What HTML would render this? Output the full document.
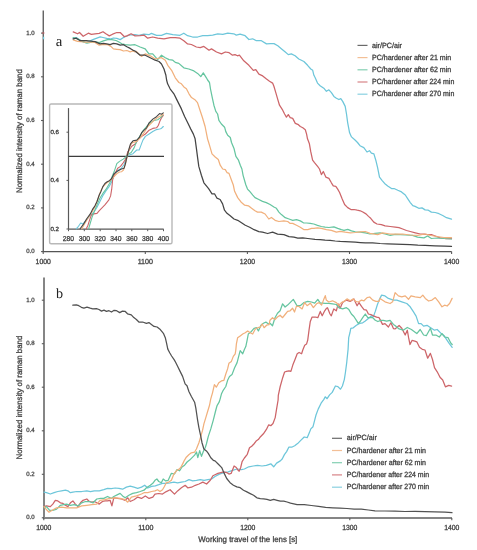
<!DOCTYPE html>
<html><head><meta charset="utf-8"><style>
html,body{margin:0;padding:0;background:#fff;}
svg{display:block;will-change:transform;text-rendering:geometricPrecision;filter:blur(0.3px);}
</style></head><body>
<svg width="477" height="550" viewBox="0 0 477 550">
<rect width="477" height="550" fill="#fff"/>
<line x1="43.25" y1="10.6" x2="43.25" y2="251.6" stroke="#555" stroke-width="1.3"/>
<line x1="42.6" y1="251.6" x2="451.6" y2="251.6" stroke="#555" stroke-width="1.3"/>
<line x1="41.05" y1="251.6" x2="43.25" y2="251.6" stroke="#5a5a5a" stroke-width="1.1"/>
<text x="34.6" y="253.1" text-anchor="end" font-size="6.2" fill="#404040" stroke="#404040" stroke-width="0.25" font-family="Liberation Sans, sans-serif" textLength="8.4" lengthAdjust="spacingAndGlyphs">0.0</text>
<line x1="41.05" y1="207.9" x2="43.25" y2="207.9" stroke="#5a5a5a" stroke-width="1.1"/>
<text x="34.6" y="209.4" text-anchor="end" font-size="6.2" fill="#404040" stroke="#404040" stroke-width="0.25" font-family="Liberation Sans, sans-serif" textLength="8.4" lengthAdjust="spacingAndGlyphs">0.2</text>
<line x1="41.05" y1="164.2" x2="43.25" y2="164.2" stroke="#5a5a5a" stroke-width="1.1"/>
<text x="34.6" y="165.7" text-anchor="end" font-size="6.2" fill="#404040" stroke="#404040" stroke-width="0.25" font-family="Liberation Sans, sans-serif" textLength="8.4" lengthAdjust="spacingAndGlyphs">0.4</text>
<line x1="41.05" y1="120.5" x2="43.25" y2="120.5" stroke="#5a5a5a" stroke-width="1.1"/>
<text x="34.6" y="122.0" text-anchor="end" font-size="6.2" fill="#404040" stroke="#404040" stroke-width="0.25" font-family="Liberation Sans, sans-serif" textLength="8.4" lengthAdjust="spacingAndGlyphs">0.6</text>
<line x1="41.05" y1="76.8" x2="43.25" y2="76.8" stroke="#5a5a5a" stroke-width="1.1"/>
<text x="34.6" y="78.3" text-anchor="end" font-size="6.2" fill="#404040" stroke="#404040" stroke-width="0.25" font-family="Liberation Sans, sans-serif" textLength="8.4" lengthAdjust="spacingAndGlyphs">0.8</text>
<line x1="41.05" y1="33.1" x2="43.25" y2="33.1" stroke="#5a5a5a" stroke-width="1.1"/>
<text x="34.6" y="34.6" text-anchor="end" font-size="6.2" fill="#404040" stroke="#404040" stroke-width="0.25" font-family="Liberation Sans, sans-serif" textLength="8.4" lengthAdjust="spacingAndGlyphs">1.0</text>
<line x1="43.2" y1="251.6" x2="43.2" y2="254.0" stroke="#5a5a5a" stroke-width="1.1"/>
<text x="43.2" y="264.0" text-anchor="middle" font-size="7.4" fill="#404040" stroke="#404040" stroke-width="0.3" font-family="Liberation Sans, sans-serif" textLength="15.2" lengthAdjust="spacingAndGlyphs">1000</text>
<line x1="145.3" y1="251.6" x2="145.3" y2="254.0" stroke="#5a5a5a" stroke-width="1.1"/>
<text x="145.3" y="264.0" text-anchor="middle" font-size="7.4" fill="#404040" stroke="#404040" stroke-width="0.3" font-family="Liberation Sans, sans-serif" textLength="15.2" lengthAdjust="spacingAndGlyphs">1100</text>
<line x1="247.4" y1="251.6" x2="247.4" y2="254.0" stroke="#5a5a5a" stroke-width="1.1"/>
<text x="247.4" y="264.0" text-anchor="middle" font-size="7.4" fill="#404040" stroke="#404040" stroke-width="0.3" font-family="Liberation Sans, sans-serif" textLength="15.2" lengthAdjust="spacingAndGlyphs">1200</text>
<line x1="349.5" y1="251.6" x2="349.5" y2="254.0" stroke="#5a5a5a" stroke-width="1.1"/>
<text x="349.5" y="264.0" text-anchor="middle" font-size="7.4" fill="#404040" stroke="#404040" stroke-width="0.3" font-family="Liberation Sans, sans-serif" textLength="15.2" lengthAdjust="spacingAndGlyphs">1300</text>
<line x1="451.6" y1="251.6" x2="451.6" y2="254.0" stroke="#5a5a5a" stroke-width="1.1"/>
<text x="451.6" y="264.0" text-anchor="middle" font-size="7.4" fill="#404040" stroke="#404040" stroke-width="0.3" font-family="Liberation Sans, sans-serif" textLength="15.2" lengthAdjust="spacingAndGlyphs">1400</text>
<text transform="translate(22.1,131.1) rotate(-90)" text-anchor="middle" font-size="8.1" fill="#404040" stroke="#404040" stroke-width="0.3" font-family="Liberation Sans, sans-serif" textLength="123.8" lengthAdjust="spacingAndGlyphs">Normalized intensity of raman band</text>
<text x="55.8" y="45.9" font-size="14.8" fill="#222" font-family="Liberation Serif, serif">a</text>
<line x1="357.5" y1="45.4" x2="367.5" y2="45.4" stroke="#454545" stroke-width="1.2" opacity="0.8"/>
<text x="372" y="47.5" font-size="7.5" fill="#404040" stroke="#404040" stroke-width="0.3" font-family="Liberation Sans, sans-serif" textLength="30" lengthAdjust="spacingAndGlyphs">air/PC/air</text>
<line x1="357.5" y1="57.6" x2="367.5" y2="57.6" stroke="#f1b07c" stroke-width="1.2" opacity="0.8"/>
<text x="372" y="59.7" font-size="7.5" fill="#404040" stroke="#404040" stroke-width="0.3" font-family="Liberation Sans, sans-serif" textLength="79.2" lengthAdjust="spacingAndGlyphs">PC/hardener after 21 min</text>
<line x1="357.5" y1="69.8" x2="367.5" y2="69.8" stroke="#66c5a0" stroke-width="1.2" opacity="0.8"/>
<text x="372" y="71.89999999999999" font-size="7.5" fill="#404040" stroke="#404040" stroke-width="0.3" font-family="Liberation Sans, sans-serif" textLength="79.2" lengthAdjust="spacingAndGlyphs">PC/hardener after 62 min</text>
<line x1="357.5" y1="82.0" x2="367.5" y2="82.0" stroke="#cd6569" stroke-width="1.2" opacity="0.8"/>
<text x="372" y="84.1" font-size="7.5" fill="#404040" stroke="#404040" stroke-width="0.3" font-family="Liberation Sans, sans-serif" textLength="82.3" lengthAdjust="spacingAndGlyphs">PC/hardener after 224 min</text>
<line x1="357.5" y1="94.2" x2="367.5" y2="94.2" stroke="#6dc6da" stroke-width="1.2" opacity="0.8"/>
<text x="372" y="96.3" font-size="7.5" fill="#404040" stroke="#404040" stroke-width="0.3" font-family="Liberation Sans, sans-serif" textLength="82.3" lengthAdjust="spacingAndGlyphs">PC/hardener after 270 min</text>
<rect x="49.6" y="104.0" width="122.4" height="139.7" rx="1.5" fill="#fff" stroke="#b8b8b8" stroke-width="1.4"/>
<line x1="68.5" y1="108.1" x2="68.5" y2="229.2" stroke="#595959" stroke-width="1.2"/>
<line x1="68.5" y1="229.2" x2="163.7" y2="229.2" stroke="#595959" stroke-width="1.2"/>
<line x1="68.5" y1="156.3" x2="164" y2="156.3" stroke="#3d3d3d" stroke-width="1.3"/>
<line x1="66.5" y1="132.2" x2="68.5" y2="132.2" stroke="#595959" stroke-width="1"/>
<text x="58.9" y="134.1" text-anchor="end" font-size="6.0" fill="#404040" stroke="#404040" stroke-width="0.3" font-family="Liberation Sans, sans-serif" textLength="8.5" lengthAdjust="spacingAndGlyphs">0.6</text>
<line x1="66.5" y1="180.4" x2="68.5" y2="180.4" stroke="#595959" stroke-width="1"/>
<text x="58.9" y="182.3" text-anchor="end" font-size="6.0" fill="#404040" stroke="#404040" stroke-width="0.3" font-family="Liberation Sans, sans-serif" textLength="8.5" lengthAdjust="spacingAndGlyphs">0.4</text>
<line x1="66.5" y1="229.0" x2="68.5" y2="229.0" stroke="#595959" stroke-width="1"/>
<text x="58.9" y="230.9" text-anchor="end" font-size="6.0" fill="#404040" stroke="#404040" stroke-width="0.3" font-family="Liberation Sans, sans-serif" textLength="8.5" lengthAdjust="spacingAndGlyphs">0.2</text>
<line x1="68.5" y1="229.2" x2="68.5" y2="231.2" stroke="#595959" stroke-width="1"/>
<text x="68.5" y="241.4" text-anchor="middle" font-size="7.1" fill="#404040" stroke="#404040" stroke-width="0.3" font-family="Liberation Sans, sans-serif" textLength="11.3" lengthAdjust="spacingAndGlyphs">280</text>
<line x1="84.3" y1="229.2" x2="84.3" y2="231.2" stroke="#595959" stroke-width="1"/>
<text x="84.3" y="241.4" text-anchor="middle" font-size="7.1" fill="#404040" stroke="#404040" stroke-width="0.3" font-family="Liberation Sans, sans-serif" textLength="11.3" lengthAdjust="spacingAndGlyphs">300</text>
<line x1="100.2" y1="229.2" x2="100.2" y2="231.2" stroke="#595959" stroke-width="1"/>
<text x="100.2" y="241.4" text-anchor="middle" font-size="7.1" fill="#404040" stroke="#404040" stroke-width="0.3" font-family="Liberation Sans, sans-serif" textLength="11.3" lengthAdjust="spacingAndGlyphs">320</text>
<line x1="116.0" y1="229.2" x2="116.0" y2="231.2" stroke="#595959" stroke-width="1"/>
<text x="116.0" y="241.4" text-anchor="middle" font-size="7.1" fill="#404040" stroke="#404040" stroke-width="0.3" font-family="Liberation Sans, sans-serif" textLength="11.3" lengthAdjust="spacingAndGlyphs">340</text>
<line x1="131.8" y1="229.2" x2="131.8" y2="231.2" stroke="#595959" stroke-width="1"/>
<text x="131.8" y="241.4" text-anchor="middle" font-size="7.1" fill="#404040" stroke="#404040" stroke-width="0.3" font-family="Liberation Sans, sans-serif" textLength="11.3" lengthAdjust="spacingAndGlyphs">360</text>
<line x1="147.7" y1="229.2" x2="147.7" y2="231.2" stroke="#595959" stroke-width="1"/>
<text x="147.7" y="241.4" text-anchor="middle" font-size="7.1" fill="#404040" stroke="#404040" stroke-width="0.3" font-family="Liberation Sans, sans-serif" textLength="11.3" lengthAdjust="spacingAndGlyphs">380</text>
<line x1="163.5" y1="229.2" x2="163.5" y2="231.2" stroke="#595959" stroke-width="1"/>
<text x="163.5" y="241.4" text-anchor="middle" font-size="7.1" fill="#404040" stroke="#404040" stroke-width="0.3" font-family="Liberation Sans, sans-serif" textLength="11.3" lengthAdjust="spacingAndGlyphs">400</text>
<polyline points="76.2,228.8 78.5,226.3 80.7,223.0 83.0,224.1 85.8,220.7 88.6,217.3 91.4,214.5 93.7,212.3 96.5,208.3 99.3,202.7 102.7,195.9 106.1,190.8 108.9,186.9 111.7,181.8 115.0,173.6 118.6,170.0 121.4,168.2 124.1,164.5 125.9,159.1 126.8,156.4 129.3,155.0 133.0,153.7 136.7,150.0 139.2,150.0 141.0,145.1 142.9,140.1 145.4,136.4 149.1,134.0 152.8,131.5 156.5,129.6 159.6,129.0 161.4,128.4 163.3,126.5" fill="none" stroke="#6dc6da" stroke-width="1.1" stroke-linejoin="round" stroke-linecap="round" opacity="1"/>
<polyline points="86.3,228.8 88.0,225.2 89.7,219.6 91.4,215.1 93.7,213.9 97.0,213.4 99.3,210.6 101.5,208.3 104.9,204.9 108.9,199.9 110.6,195.9 111.7,189.2 112.7,179.1 115.0,173.6 117.7,168.2 120.5,166.4 123.2,162.7 125.0,160.0 126.4,156.8 127.7,151.8 129.3,150.0 131.8,146.3 135.5,143.8 138.0,139.5 141.7,136.4 145.4,134.0 149.1,130.2 152.8,128.4 156.5,127.8 158.4,125.3 160.2,120.4 161.4,117.9 163.3,115.4" fill="none" stroke="#cd6569" stroke-width="1.1" stroke-linejoin="round" stroke-linecap="round" opacity="1"/>
<polyline points="88.6,228.8 90.3,223.0 92.0,217.3 94.2,211.7 97.0,204.9 99.9,198.2 102.7,193.7 106.1,189.2 109.4,183.5 111.7,179.0 111.4,178.2 114.1,171.8 116.8,163.6 119.5,161.4 123.2,159.1 125.9,156.8 127.7,154.5 131.2,152.5 134.2,147.6 136.7,141.4 140.4,135.2 142.9,130.9 146.6,126.5 150.3,122.8 154.0,120.4 157.7,119.7 160.2,117.9 162.7,115.4" fill="none" stroke="#66c5a0" stroke-width="1.1" stroke-linejoin="round" stroke-linecap="round" opacity="1"/>
<polyline points="81.8,228.8 84.5,224.0 87.5,219.0 90.5,214.5 93.0,210.5 95.5,205.5 98.2,198.2 101.0,190.3 103.8,185.8 106.5,183.0 109.5,181.0 112.0,179.0 114.5,176.0 117.0,173.5 119.5,172.0 121.4,171.8 123.5,170.0 125.0,165.0 126.4,160.0 127.5,156.2 128.5,152.0 129.9,146.3 132.4,142.6 136.7,141.4 140.4,137.7 144.1,132.7 147.8,126.5 151.6,122.8 155.3,119.1 159.0,116.7 161.4,115.4 163.3,114.2" fill="none" stroke="#f1b07c" stroke-width="1.1" stroke-linejoin="round" stroke-linecap="round" opacity="1"/>
<polyline points="80.1,228.8 83.5,224.1 86.9,218.5 90.3,213.9 92.5,209.4 94.8,206.1 97.0,201.5 99.3,194.8 101.0,191.4 102.7,186.9 104.9,183.5 107.2,181.8 109.4,180.7 111.7,178.5 114.1,173.6 117.7,170.9 121.4,169.1 124.1,168.2 125.5,163.6 126.4,159.1 127.3,155.5 128.7,150.0 130.5,143.8 133.0,140.8 136.7,140.1 139.2,137.7 141.7,132.7 144.1,130.2 146.6,127.8 149.1,122.8 152.8,119.1 156.5,116.7 159.6,113.6 161.4,114.2 163.3,112.9" fill="none" stroke="#454545" stroke-width="1.1" stroke-linejoin="round" stroke-linecap="round" opacity="1"/>
<polyline points="73.2,38.2 76.3,37.6 81.8,41.5 86.0,42.6 90.2,40.9 93.5,39.3 96.9,38.1 100.2,36.9 103.0,37.5 106.7,38.4 109.5,38.6 110.1,39.2 113.4,38.0 116.8,38.4 120.2,39.6 123.5,37.5 126.9,36.0 130.2,35.0 135.0,34.6 138.9,35.3 143.9,34.1 148.9,34.7 151.4,33.4 156.5,35.3 161.5,35.3 166.5,33.4 172.8,34.7 180.0,35.3 183.8,33.2 187.6,35.7 192.6,37.0 197.6,37.0 202.7,35.7 207.7,35.7 212.7,35.1 217.8,33.8 222.8,34.4 227.8,33.2 233.8,33.8 236.3,35.1 240.1,34.1 245.1,35.7 248.9,39.5 252.6,38.8 256.4,40.7 261.4,40.7 266.5,43.9 270.3,43.6 274.0,43.6 277.8,45.8 281.6,48.9 285.3,52.0 288.3,54.6 291.3,53.9 295.1,55.8 298.8,59.0 303.9,61.5 307.6,65.3 310.8,69.0 312.7,70.3 313.9,75.3 315.2,77.8 317.5,83.1 320.1,85.7 323.8,88.2 326.4,91.3 328.9,89.8 331.4,92.6 333.9,96.4 336.4,98.2 338.9,99.5 340.8,98.6 342.7,101.4 345.2,106.4 346.5,114.0 347.7,122.8 349.6,132.8 351.5,136.9 355.0,140.0 357.5,142.5 360.0,145.7 363.8,147.6 367.0,152.0 369.5,150.7 371.4,153.2 373.9,153.9 375.8,160.2 377.6,167.7 379.5,177.1 382.0,180.3 384.6,183.4 387.7,185.9 391.5,188.5 394.0,188.5 397.8,190.3 401.5,191.9 405.3,195.0 407.8,198.8 410.3,202.6 412.8,205.7 415.1,206.4 418.8,208.3 422.0,207.9 425.1,209.9 428.3,210.2 431.4,212.1 435.2,212.5 439.0,213.7 442.7,215.5 446.5,217.7 451.5,219.2" fill="none" stroke="#6dc6da" stroke-width="1.25" stroke-linejoin="round" stroke-linecap="round" opacity="1"/>
<polyline points="73.2,31.9 77.6,33.8 79.5,32.5 83.2,36.3 88.3,33.2 91.4,34.4 95.0,33.8 99.2,33.4 103.0,31.7 105.9,33.8 109.3,35.9 112.6,34.2 116.8,32.5 120.2,32.5 122.7,35.0 124.4,36.7 126.9,35.9 131.1,33.8 135.0,35.9 140.1,35.7 143.9,35.1 147.7,38.2 152.7,37.0 157.7,38.2 164.0,38.8 170.3,37.6 175.3,37.6 180.0,38.2 183.8,40.7 187.6,43.9 191.4,44.5 196.4,47.0 200.2,47.6 203.9,46.4 209.0,50.2 211.5,48.9 216.5,52.0 221.5,53.9 225.3,52.0 229.1,52.7 232.5,55.2 235.0,54.6 237.5,55.8 239.4,55.2 243.8,60.8 248.9,65.3 253.3,70.3 255.8,69.7 258.9,74.1 262.7,75.9 266.5,79.1 269.5,81.3 272.6,83.1 273.9,86.3 275.8,92.6 277.6,98.9 279.5,105.2 282.7,110.2 284.6,114.0 286.4,117.1 288.3,114.6 290.2,117.7 292.7,118.4 295.3,123.4 298.4,124.7 300.3,126.5 302.8,127.8 305.3,129.7 306.6,134.1 307.5,138.8 309.4,143.8 310.7,151.4 312.6,160.2 314.5,162.7 317.6,166.4 319.5,169.0 321.4,174.6 323.3,171.5 325.8,177.1 328.9,178.4 331.4,182.8 333.3,185.9 335.8,186.3 337.7,189.1 339.6,192.5 342.1,198.8 344.6,204.5 347.7,207.6 350.9,209.5 354.0,209.5 357.2,210.2 360.3,210.8 362.8,212.0 366.0,213.9 368.5,216.4 370.7,218.3 373.8,222.1 377.0,224.0 381.4,224.6 385.1,225.8 390.2,226.5 395.2,227.1 399.0,227.7 402.7,229.0 406.5,230.5 410.3,231.5 415.3,232.8 420.3,234.0 423.9,234.1 427.6,234.7 431.4,234.7 435.2,236.0 440.2,237.9 445.3,238.5 451.5,238.5" fill="none" stroke="#cd6569" stroke-width="1.25" stroke-linejoin="round" stroke-linecap="round" opacity="1"/>
<polyline points="73.2,37.6 77.6,38.8 82.6,41.4 87.0,43.2 92.7,42.0 95.0,41.7 99.2,42.6 103.4,40.9 107.6,39.6 111.8,39.6 116.0,40.5 118.5,41.7 121.8,43.8 125.2,44.7 130.2,45.1 135.0,44.7 140.1,47.0 145.2,48.9 148.9,53.9 152.7,53.9 157.7,59.6 161.5,55.2 165.3,57.7 169.1,59.6 172.8,60.2 175.3,62.4 178.8,63.4 183.8,67.8 188.8,69.0 193.9,70.9 197.6,73.4 200.8,76.6 203.3,72.8 206.4,77.8 207.6,80.0 209.5,82.5 210.5,89.0 212.0,96.4 213.9,105.2 215.8,111.4 217.6,114.0 218.9,120.3 221.4,124.0 224.6,127.2 225.8,131.6 227.7,135.3 230.3,137.5 231.5,142.5 234.1,148.8 235.9,156.4 238.5,160.2 240.3,165.2 241.9,169.0 243.1,175.3 245.0,182.0 245.9,185.0 247.5,189.1 249.1,190.7 252.8,195.1 255.0,197.6 258.8,199.5 262.5,201.4 266.3,202.6 270.1,204.5 273.9,207.0 276.4,208.3 278.9,212.1 281.4,214.6 285.2,217.7 289.0,219.0 292.7,220.3 296.5,219.6 300.3,220.9 303.4,222.8 306.6,223.0 310.3,223.4 313.8,224.0 317.5,225.3 321.3,226.5 325.1,227.1 328.9,227.5 333.9,226.8 337.7,228.4 341.4,229.7 344.0,230.3 347.7,229.3 351.5,230.9 355.3,231.8 360.3,232.2 365.3,232.8 370.0,234.0 375.1,233.4 380.1,232.8 385.1,234.0 390.2,235.3 395.2,234.3 400.2,234.7 405.3,235.0 412.5,235.3 417.6,237.2 423.9,237.9 427.6,236.0 431.4,238.5 437.0,238.0 444.0,238.5 451.5,239.0" fill="none" stroke="#66c5a0" stroke-width="1.25" stroke-linejoin="round" stroke-linecap="round" opacity="1"/>
<polyline points="73.2,39.8 77.6,41.4 83.9,42.0 90.2,42.0 95.0,42.5 99.2,45.1 103.4,44.3 107.6,44.7 110.9,46.4 113.4,48.9 116.8,49.3 120.2,49.7 123.5,51.0 126.9,50.5 130.2,51.8 132.7,51.0 135.0,51.8 136.4,51.4 141.4,56.4 145.2,53.9 150.2,55.8 155.2,59.0 161.5,57.7 165.3,60.2 167.8,65.3 171.6,70.3 175.3,77.8 178.9,82.5 181.4,83.8 183.9,86.9 186.4,88.8 189.0,93.8 191.5,97.6 195.3,100.1 197.5,102.6 200.0,110.2 202.5,117.7 205.1,126.5 207.6,139.1 208.3,141.3 210.2,147.6 212.0,153.9 215.2,157.0 218.3,159.5 220.2,165.2 222.7,169.0 225.3,169.6 227.1,172.7 229.0,173.4 231.5,180.3 233.3,185.0 234.6,191.3 237.7,197.6 241.5,202.6 244.7,205.2 248.4,205.8 251.6,208.3 255.0,210.8 257.5,212.1 261.3,212.1 265.1,214.0 268.8,219.0 271.4,217.5 275.1,220.3 278.9,221.5 283.9,220.9 287.7,221.5 290.2,223.4 292.7,223.4 296.5,225.3 300.3,227.2 304.1,229.7 307.8,229.7 311.6,228.4 313.8,228.4 317.5,227.8 321.3,228.4 326.4,229.7 331.4,230.3 336.4,232.2 340.2,231.3 345.2,232.2 350.3,232.8 355.3,232.5 360.3,231.8 365.3,231.5 370.0,233.4 377.6,234.7 382.6,232.8 390.0,234.0 402.7,234.0 410.0,235.0 417.8,235.3 425.0,234.0 431.0,235.5 437.0,236.5 444.0,237.5 451.5,237.5" fill="none" stroke="#f1b07c" stroke-width="1.25" stroke-linejoin="round" stroke-linecap="round" opacity="1"/>
<polyline points="73.2,38.8 76.3,38.2 80.1,40.7 86.4,40.7 92.7,41.4 95.0,41.7 100.0,43.8 103.4,43.4 106.7,43.8 110.1,44.7 113.4,43.4 116.8,43.8 120.2,45.1 123.5,44.7 126.9,46.8 130.2,48.4 132.7,50.1 135.0,51.0 140.1,55.2 145.2,55.2 150.2,57.7 155.2,60.2 159.0,61.5 161.5,64.0 164.0,69.0 165.9,75.3 166.6,80.0 167.6,83.8 170.1,88.8 173.9,93.8 176.4,98.9 178.9,103.9 181.4,108.9 184.6,116.5 187.7,122.8 190.8,129.1 193.4,134.1 195.1,138.8 196.3,147.6 197.6,157.6 198.8,166.4 201.4,175.3 203.9,182.8 207.0,186.6 208.8,188.8 212.0,193.8 214.5,193.8 217.0,198.2 220.1,199.5 222.6,203.9 224.5,210.2 227.0,213.3 230.2,215.8 234.0,219.0 237.7,220.3 241.5,222.8 245.3,225.3 249.7,227.2 254.1,229.7 258.8,231.6 262.5,232.2 267.6,233.5 272.6,232.2 277.6,234.1 283.9,234.7 289.0,236.6 294.0,237.2 297.8,238.1 302.8,237.9 307.8,238.5 315.0,239.3 320.1,239.7 325.1,240.1 330.1,240.3 335.2,241.0 340.2,241.4 345.2,241.6 350.3,241.9 355.3,242.2 360.3,242.6 365.3,242.9 372.5,242.8 380.1,243.5 387.6,243.8 395.2,244.1 402.7,244.3 410.3,244.7 417.8,245.1 425.0,245.3 435.0,245.8 445.0,246.2 451.5,246.4" fill="none" stroke="#454545" stroke-width="1.25" stroke-linejoin="round" stroke-linecap="round" opacity="1"/>
<line x1="42" y1="33" x2="44.5" y2="33" stroke="#cd6569" stroke-width="1"/>
<line x1="43.6" y1="36.8" x2="43.6" y2="39.3" stroke="#6dc6da" stroke-width="1.2"/>
<line x1="44.0" y1="277.6" x2="44.0" y2="517.9" stroke="#858585" stroke-width="2.0"/>
<line x1="43.0" y1="517.9" x2="452.0" y2="517.9" stroke="#858585" stroke-width="2.0"/>
<line x1="41.8" y1="517.8" x2="44.0" y2="517.8" stroke="#5a5a5a" stroke-width="1.1"/>
<text x="34.6" y="519.3" text-anchor="end" font-size="6.2" fill="#404040" stroke="#404040" stroke-width="0.25" font-family="Liberation Sans, sans-serif" textLength="8.4" lengthAdjust="spacingAndGlyphs">0.0</text>
<line x1="41.8" y1="474.3" x2="44.0" y2="474.3" stroke="#5a5a5a" stroke-width="1.1"/>
<text x="34.6" y="475.8" text-anchor="end" font-size="6.2" fill="#404040" stroke="#404040" stroke-width="0.25" font-family="Liberation Sans, sans-serif" textLength="8.4" lengthAdjust="spacingAndGlyphs">0.2</text>
<line x1="41.8" y1="430.8" x2="44.0" y2="430.8" stroke="#5a5a5a" stroke-width="1.1"/>
<text x="34.6" y="432.3" text-anchor="end" font-size="6.2" fill="#404040" stroke="#404040" stroke-width="0.25" font-family="Liberation Sans, sans-serif" textLength="8.4" lengthAdjust="spacingAndGlyphs">0.4</text>
<line x1="41.8" y1="387.2" x2="44.0" y2="387.2" stroke="#5a5a5a" stroke-width="1.1"/>
<text x="34.6" y="388.7" text-anchor="end" font-size="6.2" fill="#404040" stroke="#404040" stroke-width="0.25" font-family="Liberation Sans, sans-serif" textLength="8.4" lengthAdjust="spacingAndGlyphs">0.6</text>
<line x1="41.8" y1="343.7" x2="44.0" y2="343.7" stroke="#5a5a5a" stroke-width="1.1"/>
<text x="34.6" y="345.2" text-anchor="end" font-size="6.2" fill="#404040" stroke="#404040" stroke-width="0.25" font-family="Liberation Sans, sans-serif" textLength="8.4" lengthAdjust="spacingAndGlyphs">0.8</text>
<line x1="41.8" y1="300.2" x2="44.0" y2="300.2" stroke="#5a5a5a" stroke-width="1.1"/>
<text x="34.6" y="301.7" text-anchor="end" font-size="6.2" fill="#404040" stroke="#404040" stroke-width="0.25" font-family="Liberation Sans, sans-serif" textLength="8.4" lengthAdjust="spacingAndGlyphs">1.0</text>
<line x1="43.8" y1="517.9" x2="43.8" y2="520.3" stroke="#5a5a5a" stroke-width="1.1"/>
<text x="43.8" y="530.2" text-anchor="middle" font-size="7.4" fill="#404040" stroke="#404040" stroke-width="0.3" font-family="Liberation Sans, sans-serif" textLength="15.2" lengthAdjust="spacingAndGlyphs">1000</text>
<line x1="145.8" y1="517.9" x2="145.8" y2="520.3" stroke="#5a5a5a" stroke-width="1.1"/>
<text x="145.8" y="530.2" text-anchor="middle" font-size="7.4" fill="#404040" stroke="#404040" stroke-width="0.3" font-family="Liberation Sans, sans-serif" textLength="15.2" lengthAdjust="spacingAndGlyphs">1100</text>
<line x1="247.8" y1="517.9" x2="247.8" y2="520.3" stroke="#5a5a5a" stroke-width="1.1"/>
<text x="247.8" y="530.2" text-anchor="middle" font-size="7.4" fill="#404040" stroke="#404040" stroke-width="0.3" font-family="Liberation Sans, sans-serif" textLength="15.2" lengthAdjust="spacingAndGlyphs">1200</text>
<line x1="349.8" y1="517.9" x2="349.8" y2="520.3" stroke="#5a5a5a" stroke-width="1.1"/>
<text x="349.8" y="530.2" text-anchor="middle" font-size="7.4" fill="#404040" stroke="#404040" stroke-width="0.3" font-family="Liberation Sans, sans-serif" textLength="15.2" lengthAdjust="spacingAndGlyphs">1300</text>
<line x1="451.8" y1="517.9" x2="451.8" y2="520.3" stroke="#5a5a5a" stroke-width="1.1"/>
<text x="451.8" y="530.2" text-anchor="middle" font-size="7.4" fill="#404040" stroke="#404040" stroke-width="0.3" font-family="Liberation Sans, sans-serif" textLength="15.2" lengthAdjust="spacingAndGlyphs">1400</text>
<text transform="translate(22.1,397.6) rotate(-90)" text-anchor="middle" font-size="8.1" fill="#404040" stroke="#404040" stroke-width="0.3" font-family="Liberation Sans, sans-serif" textLength="123.8" lengthAdjust="spacingAndGlyphs">Normalized intensity of raman band</text>
<text x="56.0" y="298.3" font-size="14.2" fill="#222" font-family="Liberation Serif, serif">b</text>
<line x1="332" y1="438.3" x2="342" y2="438.3" stroke="#454545" stroke-width="1.2" opacity="0.8"/>
<text x="346.8" y="440.40000000000003" font-size="7.5" fill="#404040" stroke="#404040" stroke-width="0.3" font-family="Liberation Sans, sans-serif" textLength="30" lengthAdjust="spacingAndGlyphs">air/PC/air</text>
<line x1="332" y1="450.5" x2="342" y2="450.5" stroke="#f1b07c" stroke-width="1.2" opacity="0.8"/>
<text x="346.8" y="452.6" font-size="7.5" fill="#404040" stroke="#404040" stroke-width="0.3" font-family="Liberation Sans, sans-serif" textLength="79.2" lengthAdjust="spacingAndGlyphs">PC/hardener after 21 min</text>
<line x1="332" y1="462.7" x2="342" y2="462.7" stroke="#66c5a0" stroke-width="1.2" opacity="0.8"/>
<text x="346.8" y="464.8" font-size="7.5" fill="#404040" stroke="#404040" stroke-width="0.3" font-family="Liberation Sans, sans-serif" textLength="79.2" lengthAdjust="spacingAndGlyphs">PC/hardener after 62 min</text>
<line x1="332" y1="474.9" x2="342" y2="474.9" stroke="#cd6569" stroke-width="1.2" opacity="0.8"/>
<text x="346.8" y="477.0" font-size="7.5" fill="#404040" stroke="#404040" stroke-width="0.3" font-family="Liberation Sans, sans-serif" textLength="82.3" lengthAdjust="spacingAndGlyphs">PC/hardener after 224 min</text>
<line x1="332" y1="487.2" x2="342" y2="487.2" stroke="#6dc6da" stroke-width="1.2" opacity="0.8"/>
<text x="346.8" y="489.3" font-size="7.5" fill="#404040" stroke="#404040" stroke-width="0.3" font-family="Liberation Sans, sans-serif" textLength="82.3" lengthAdjust="spacingAndGlyphs">PC/hardener after 270 min</text>
<text x="247.8" y="541.6" text-anchor="middle" font-size="8.1" fill="#404040" stroke="#404040" stroke-width="0.3" font-family="Liberation Sans, sans-serif" textLength="99" lengthAdjust="spacingAndGlyphs">Working travel of the lens [s]</text>
<polyline points="44.0,492.1 46.5,492.7 50.3,494.0 54.1,492.7 57.8,491.5 61.6,490.8 65.4,490.2 67.9,490.8 70.4,492.7 72.9,492.1 76.7,491.5 81.7,491.5 86.8,490.8 90.5,491.7 94.3,490.8 99.3,490.8 103.8,489.6 107.5,488.3 111.3,488.7 115.1,488.0 118.9,488.3 122.6,489.2 126.4,487.1 130.2,486.2 134.0,487.1 137.7,488.3 141.5,487.1 144.7,485.2 147.8,488.0 151.6,486.4 155.3,485.8 158.8,484.7 162.5,483.4 166.3,483.4 170.1,482.8 173.9,482.1 177.6,482.8 181.4,482.1 185.2,481.5 189.0,479.6 192.7,480.9 196.5,480.3 200.3,479.6 204.1,480.3 207.8,479.6 211.6,479.0 215.0,476.5 219.4,474.1 223.8,472.6 228.2,471.9 232.6,470.4 237.0,469.0 241.4,469.7 244.4,469.0 248.8,466.8 253.2,466.0 257.6,465.3 262.0,466.0 266.4,465.3 270.8,463.8 273.7,466.8 276.6,463.1 280.3,460.9 282.2,459.0 284.4,454.6 286.6,451.6 288.8,447.2 291.7,447.2 294.7,445.8 297.6,443.6 300.5,440.6 304.2,437.0 307.2,437.7 309.4,432.6 310.8,428.9 313.0,426.7 314.5,420.8 316.0,415.0 318.2,409.1 321.1,403.2 323.9,399.4 325.2,396.8 327.1,398.7 329.6,394.9 332.2,392.4 335.4,386.0 337.9,386.6 340.5,389.2 342.4,386.0 344.3,379.6 345.5,372.0 346.8,361.8 348.1,349.1 348.7,337.6 350.0,332.5 350.8,328.4 353.3,327.8 356.4,325.3 359.6,323.4 362.7,322.8 365.3,320.9 368.4,318.4 371.5,315.8 373.4,316.5 375.3,311.4 377.2,305.2 379.1,300.1 381.6,295.1 385.0,295.9 388.4,298.4 393.4,300.1 396.8,300.1 401.8,301.8 406.8,303.5 410.2,306.8 413.5,311.9 416.1,316.1 418.6,323.6 421.1,323.6 423.6,326.1 427.0,325.3 430.3,327.5 434.5,330.2 437.2,329.5 441.3,333.6 444.1,335.7 446.8,339.8 449.5,343.8 452.2,347.3" fill="none" stroke="#6dc6da" stroke-width="1.25" stroke-linejoin="round" stroke-linecap="round" opacity="1"/>
<polyline points="44.0,506.6 46.5,505.9 50.3,506.6 52.8,504.1 55.3,500.3 57.8,500.9 60.4,502.8 62.9,503.4 65.4,505.3 67.9,506.6 70.4,502.8 72.9,500.9 75.4,504.1 78.0,506.6 80.5,502.8 83.0,500.3 86.8,499.0 89.3,501.5 91.8,502.2 94.3,501.5 96.8,502.8 99.3,504.1 102.5,501.5 105.0,500.9 107.5,500.9 110.1,500.3 111.9,505.9 113.8,497.8 117.6,498.4 121.4,499.0 125.2,500.3 127.7,497.8 130.2,501.5 134.0,499.7 137.7,497.1 141.5,498.4 145.3,495.9 149.1,498.4 152.8,497.1 155.0,494.1 158.8,493.5 162.5,494.1 166.3,491.6 170.1,489.7 174.5,494.1 177.6,490.9 181.4,487.8 185.2,485.3 187.7,487.8 191.5,487.2 195.3,485.3 199.0,484.0 202.8,482.1 206.6,484.0 210.3,480.3 212.9,475.8 215.0,474.8 217.9,473.4 220.9,472.6 223.8,471.9 226.7,472.6 228.9,474.1 231.1,473.4 232.6,469.7 234.1,466.0 236.3,467.5 237.7,469.7 239.2,471.2 240.7,467.5 242.1,461.6 244.4,458.0 247.3,454.3 249.5,447.7 251.7,446.2 253.9,444.0 256.1,441.1 258.3,439.6 260.5,436.7 263.4,433.8 266.4,429.4 268.6,424.9 270.8,425.7 273.0,423.5 275.2,417.6 276.6,408.8 278.1,400.0 278.3,395.3 280.2,386.5 282.7,377.7 284.6,372.0 286.5,371.4 289.0,370.8 290.9,371.4 292.8,365.1 295.3,358.8 297.2,353.8 299.1,352.5 301.6,353.8 302.8,350.0 304.7,345.3 306.5,344.1 307.7,340.3 309.0,330.3 310.3,321.4 312.1,317.0 315.3,317.0 317.8,317.7 320.3,311.4 322.2,315.8 324.7,310.8 326.6,308.2 327.5,307.7 330.0,314.0 331.3,315.8 333.8,308.9 336.3,310.8 338.2,303.9 340.1,308.3 342.6,302.6 346.4,300.1 350.2,301.4 353.9,298.9 357.1,305.8 359.0,302.6 361.5,306.4 364.0,309.6 366.5,310.2 368.4,314.0 370.9,314.6 373.4,315.8 376.6,317.1 379.1,317.7 380.0,319.4 382.5,324.4 385.0,323.6 388.4,327.0 390.9,322.8 393.4,328.6 395.0,328.9 399.1,325.5 401.8,328.2 405.2,335.0 407.3,330.2 408.6,337.7 410.0,344.5 412.0,340.4 414.8,341.1 416.8,341.8 419.5,347.3 422.3,349.3 425.0,350.0 427.7,358.2 430.4,353.4 432.5,359.5 434.5,367.7 437.2,371.8 440.0,377.2 442.7,380.0 445.4,386.8 448.8,385.4 451.6,386.1" fill="none" stroke="#cd6569" stroke-width="1.25" stroke-linejoin="round" stroke-linecap="round" opacity="1"/>
<polyline points="44.0,507.8 46.5,506.6 49.7,510.3 52.8,510.3 56.6,509.1 60.4,505.3 63.5,504.7 66.6,504.1 70.4,505.3 74.2,504.7 78.0,505.9 81.7,502.8 85.5,501.5 89.3,501.5 93.1,502.8 96.8,499.0 100.6,498.4 103.8,498.4 107.5,496.5 111.3,498.4 113.8,496.5 117.6,494.6 120.1,493.4 122.6,495.9 125.2,497.8 128.9,495.3 132.7,493.4 136.5,492.7 140.3,491.5 144.0,490.2 146.5,487.7 150.3,485.2 152.8,483.3 155.0,480.3 156.9,479.0 158.8,481.5 161.3,482.8 163.2,479.0 165.7,480.9 168.2,480.3 171.4,473.3 174.5,474.0 177.0,469.6 179.5,470.8 182.0,467.0 184.6,465.2 187.1,462.0 189.6,460.1 192.1,457.6 194.6,455.1 196.5,452.0 197.8,457.6 199.7,450.7 201.5,456.4 203.4,451.3 205.3,447.5 206.4,444.0 208.3,436.4 210.8,428.9 213.3,420.1 215.2,412.5 216.5,407.5 217.2,405.3 219.1,402.2 220.1,399.1 221.4,394.1 223.2,390.3 225.8,386.5 227.6,380.3 229.5,376.5 232.0,374.6 234.6,367.7 237.1,362.6 239.0,355.1 240.2,350.7 242.7,353.8 244.6,349.1 245.8,346.6 247.1,340.3 248.3,334.0 250.8,332.1 254.0,328.4 256.5,327.7 258.4,330.9 260.9,325.2 263.4,323.3 265.9,322.1 268.5,324.0 270.0,323.3 272.5,325.8 275.0,317.7 277.5,313.3 280.1,310.8 282.6,303.8 285.1,307.0 287.6,305.1 290.1,302.6 293.3,299.4 295.2,302.6 297.0,305.7 300.2,305.7 304.0,302.6 307.7,301.3 311.5,302.0 314.7,303.2 317.8,299.4 320.3,303.2 322.8,303.2 325.0,303.3 328.8,303.3 332.5,303.9 336.3,304.5 338.8,307.7 342.6,308.9 346.4,307.7 348.9,309.6 351.4,314.0 353.9,316.5 356.4,320.3 358.3,323.4 360.2,321.5 362.7,317.7 365.3,314.0 367.8,317.7 370.3,317.7 372.8,317.7 375.3,320.3 377.8,321.5 381.0,320.3 383.4,320.3 386.7,321.1 390.1,320.3 393.4,324.4 395.0,325.5 399.1,328.9 403.2,330.2 407.3,327.5 411.4,329.5 416.8,333.6 420.2,329.5 423.6,335.0 426.3,335.7 430.4,328.2 432.5,335.0 435.9,335.0 439.3,337.0 442.0,333.6 444.7,337.0 448.1,337.7 450.9,343.2 452.2,344.5" fill="none" stroke="#66c5a0" stroke-width="1.25" stroke-linejoin="round" stroke-linecap="round" opacity="1"/>
<polyline points="44.0,506.6 47.1,510.3 49.0,512.2 52.2,510.3 56.6,507.8 61.6,507.2 66.6,507.8 71.7,507.8 76.7,507.8 81.7,505.9 86.8,505.3 91.8,504.7 96.8,504.1 100.0,500.3 105.0,499.7 110.1,498.4 115.1,497.8 120.1,498.4 125.2,499.7 127.7,502.2 131.4,497.1 136.5,495.9 141.5,494.0 144.0,492.7 147.8,492.7 151.6,491.5 155.0,490.9 157.5,489.7 160.0,491.6 162.5,489.7 164.4,486.5 166.3,482.8 168.8,482.1 171.4,480.3 173.9,474.0 176.4,470.8 179.5,468.9 181.4,466.4 183.3,462.6 184.4,460.3 186.3,457.2 188.8,454.7 191.3,452.8 194.5,452.2 196.4,449.0 198.9,442.7 200.8,436.4 202.6,430.2 203.9,423.9 205.8,417.6 207.7,411.3 209.6,405.0 210.7,399.1 212.5,392.8 214.4,384.7 216.3,387.2 218.8,382.8 221.4,380.9 223.9,380.3 225.8,374.0 227.6,368.9 228.9,363.3 231.4,361.4 233.3,356.4 235.2,353.8 235.8,350.1 236.4,343.8 237.6,337.8 240.2,335.9 242.7,334.0 245.2,332.8 247.7,330.9 250.2,332.8 252.7,334.0 255.3,329.0 257.8,327.7 260.3,327.1 262.2,324.0 264.1,327.7 266.6,325.2 269.1,324.6 270.0,320.2 272.5,317.7 275.0,319.6 277.5,317.0 280.1,315.2 282.6,317.7 285.1,314.5 287.6,311.4 290.1,310.8 292.6,308.2 294.5,312.0 296.4,306.4 298.9,306.4 302.1,308.9 304.6,302.6 307.1,305.7 310.3,303.2 313.4,307.6 316.5,303.8 319.1,302.6 321.6,305.1 323.5,300.1 325.3,295.7 326.3,300.1 328.8,302.0 332.5,300.8 336.3,302.6 338.8,305.2 341.4,302.6 343.9,301.4 347.0,298.9 350.2,300.8 353.3,298.9 355.8,301.4 358.3,302.0 361.5,300.1 364.0,300.8 367.1,297.6 369.7,297.0 372.8,300.1 375.9,301.4 379.1,301.4 380.0,298.4 385.0,301.8 390.1,303.5 392.6,301.8 395.1,292.6 398.4,295.9 401.8,296.8 405.2,295.9 408.5,299.3 411.0,295.9 415.2,296.8 420.3,297.6 422.8,295.1 425.3,298.4 428.6,301.0 432.0,300.1 435.3,297.6 438.7,301.8 442.0,306.8 444.6,305.2 447.1,306.0 449.6,303.5 452.1,298.4" fill="none" stroke="#f1b07c" stroke-width="1.25" stroke-linejoin="round" stroke-linecap="round" opacity="1"/>
<polyline points="72.8,305.1 76.3,304.8 78.8,305.7 81.4,307.3 83.9,308.2 87.0,307.2 90.2,308.2 92.7,308.8 96.4,308.6 99.0,309.5 101.5,311.1 104.0,310.1 106.5,311.4 109.0,310.7 111.5,312.0 114.1,310.3 116.6,310.7 119.7,312.6 122.5,311.1 125.0,311.3 127.5,313.8 131.3,314.8 133.8,317.6 136.4,319.5 138.9,322.0 142.6,322.0 146.4,323.3 148.9,322.6 151.4,324.5 154.0,326.4 157.1,327.0 160.3,329.6 163.4,333.3 165.3,337.7 166.5,342.8 167.8,349.1 169.7,352.8 171.6,356.0 174.1,359.7 175.1,361.3 177.6,366.3 180.1,371.4 182.6,376.4 185.1,383.9 187.0,385.8 188.9,391.5 191.4,396.5 194.6,402.2 195.8,407.8 196.4,412.0 197.6,420.1 198.9,427.6 200.8,436.4 202.0,442.7 203.9,449.0 206.4,450.9 208.3,453.4 210.8,457.8 213.3,460.3 215.0,460.9 218.4,464.2 221.7,467.6 224.2,473.4 226.7,478.5 230.1,482.7 233.4,485.2 236.8,486.9 240.2,487.7 243.5,490.2 246.9,491.9 250.2,493.6 253.6,495.3 256.9,497.8 260.3,498.6 263.6,498.9 267.0,499.4 270.3,500.3 273.7,499.4 277.1,500.3 280.4,501.1 283.8,501.1 287.1,502.0 290.5,503.2 297.1,504.6 304.3,504.6 311.4,505.5 318.5,506.4 325.6,507.3 332.8,507.8 339.9,508.2 347.0,508.5 354.1,509.1 361.3,509.1 368.4,510.0 375.0,510.8 385.0,511.0 395.0,511.2 405.0,511.5 415.0,511.4 425.0,511.7 435.0,511.9 445.0,512.1 452.0,512.6" fill="none" stroke="#525252" stroke-width="1.25" stroke-linejoin="round" stroke-linecap="round" opacity="1"/>
</svg>
</body></html>
